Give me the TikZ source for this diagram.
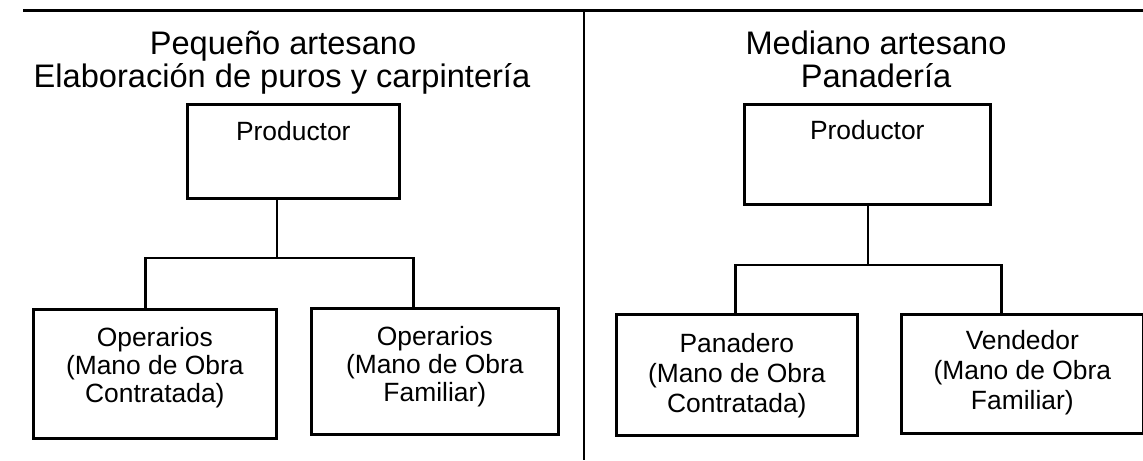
\documentclass[tikz,border=0pt]{standalone}
\usepackage{fontspec}
\setmainfont{Liberation Sans}
\begin{document}
\begin{tikzpicture}[x=0.5pt,y=-0.5pt,
  caja/.style={draw,line width=1.3pt,inner sep=0pt,anchor=north west,align=center,font=\fontsize{13.2}{14}\selectfont},
  titulo/.style={anchor=base,inner sep=0pt,font=\fontsize{16.3}{16.5}\selectfont},
  linea/.style={line width=1.2pt}]
\useasboundingbox (0,0) rectangle (1143,460);
% marco de la tabla
\coordinate (regla0) at (23,11);
\coordinate (regla1) at (1143,11);
\coordinate (div0) at (584,11);
\coordinate (div1) at (584,460);
\draw[line width=1.5pt] (regla0) -- (regla1);
\draw[line width=1pt] (div0) -- (div1);
% Pequeno artesano
\node[titulo] (tituloA1) at (283,55) {Pequeño artesano};
\node[titulo] (tituloA2) at (282,88) {Elaboración de puros y carpintería};
\node[caja,minimum width=106pt,text height=18pt,text depth=29pt] (prodA) at (186,103) {Productor};
\node[caja,minimum width=121.5pt,text height=46.5pt,text depth=18pt] (opA) at (32,308) {Operarios\\(Mano de Obra\\Contratada)};
\node[caja,minimum width=123.5pt,text height=46.5pt,text depth=16.5pt] (opB) at (310,307) {Operarios\\(Mano de Obra\\Familiar)};
\coordinate (busA) at (277,258);
\draw[linea] (prodA.south -| busA) -- (busA);
\draw[linea] ([xshift=-4.75pt]opA.north) |- (busA) -| ([xshift=-10.75pt]opB.north);
% Mediano artesano
\node[titulo] (tituloB1) at (876,55) {Mediano artesano};
\node[titulo] (tituloB2) at (876,88) {Panadería};
\node[caja,minimum width=123pt,text height=17.5pt,text depth=32.5pt] (prodB) at (743,103) {Productor};
\node[caja,minimum width=120.5pt,text height=49pt,text depth=11.5pt,font=\fontsize{13.2}{15}\selectfont] (panad) at (615,313) {Panadero\\(Mano de Obra\\Contratada)};
\node[caja,minimum width=121pt,text height=47.5pt,text depth=12pt,font=\fontsize{13.2}{15}\selectfont] (vend) at (900,313) {Vendedor\\(Mano de Obra\\Familiar)};
\coordinate (busB) at (868,265);
\draw[linea] (prodB.south -| busB) -- (busB);
\draw[linea] ([xshift=-0.75pt]panad.north) |- (busB) -| ([xshift=-10.5pt]vend.north);
\end{tikzpicture}
\end{document}
